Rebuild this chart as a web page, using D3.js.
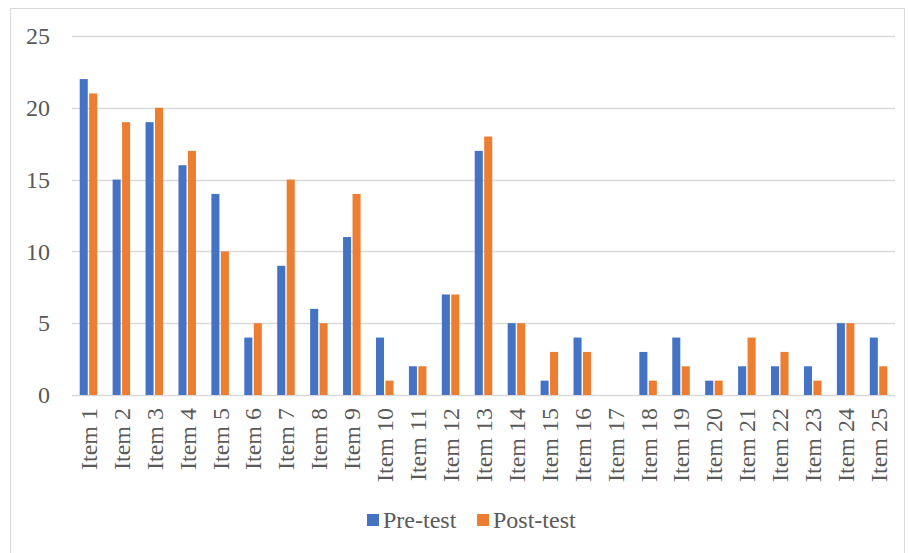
<!DOCTYPE html>
<html><head><meta charset="utf-8">
<script src="https://cdn.jsdelivr.net/npm/d3@7"></script>
<style>html,body{margin:0;padding:0;background:#fff;}svg{display:block;}
svg text{font-family:"Liberation Serif","Times New Roman",serif;}</style>
</head><body>
<script>
const categories = ["Item 1","Item 2","Item 3","Item 4","Item 5","Item 6","Item 7","Item 8","Item 9","Item 10","Item 11","Item 12","Item 13","Item 14","Item 15","Item 16","Item 17","Item 18","Item 19","Item 20","Item 21","Item 22","Item 23","Item 24","Item 25"];
const seriesNames = ["Pre-test","Post-test"];
const preTest  = [22,15,19,16,14,4,9,6,11,4,2,7,17,5,1,4,0,3,4,1,2,2,2,5,4];
const postTest = [21,19,20,17,10,5,15,5,14,1,2,7,18,5,3,3,0,1,2,1,4,3,1,5,2];
const yTicks = [0,5,10,15,20,25];
const colors = ["#4472C4","#ED7D31"];

(function(){
const W = 909, H = 553;
const svg = d3.select("body").append("svg").attr("width", W).attr("height", H);
const font = "'Liberation Serif', 'Times New Roman', serif";
const fs = "24px";

svg.append("rect").attr("x",10.5).attr("y",8.5).attr("width",894).attr("height",560)
  .attr("fill","#fff").attr("stroke","#d9d9d9").attr("stroke-width",1);

const pLeft = 72, pRight = 895, pTop = 36, pBottom = 395;
const x0 = d3.scaleBand().domain(categories).range([pLeft, pRight]).padding(0);
const groupW = 17.5;
const x1 = d3.scaleBand().domain(seriesNames).range([(x0.bandwidth()-groupW)/2, (x0.bandwidth()+groupW)/2]).paddingInner(0.15);
const y = d3.scaleLinear().domain([0,25]).range([pBottom, pTop]);

svg.append("g").selectAll("line").data(yTicks).join("line")
  .attr("x1", pLeft).attr("x2", pRight)
  .attr("y1", d => Math.round(y(d))+0.5).attr("y2", d => Math.round(y(d))+0.5)
  .attr("stroke","#d9d9d9").attr("stroke-width",1.5);

const yAxis = svg.append("g").attr("transform",`translate(${pLeft-22},0)`)
  .call(d3.axisLeft(y).tickValues(yTicks).tickSize(0).tickPadding(0));
yAxis.attr("font-family",null).attr("font-size",null);
yAxis.select(".domain").remove();
yAxis.selectAll("text").style("font-family",font).style("font-size",fs).attr("fill","#595959");

const data = categories.map((c,i)=>({cat:c, vals:[{s:seriesNames[0],v:preTest[i]},{s:seriesNames[1],v:postTest[i]}]}));
const g = svg.append("g").selectAll("g").data(data).join("g")
  .attr("transform", d => `translate(${x0(d.cat)},0)`);
g.selectAll("rect").data(d => d.vals).join("rect")
  .attr("x", d => x1(d.s)).attr("width", x1.bandwidth())
  .attr("y", d => y(d.v)).attr("height", d => y(0)-y(d.v))
  .attr("fill", (d,i) => colors[i]);

const xAxis = svg.append("g").attr("transform",`translate(0,${pBottom})`)
  .call(d3.axisBottom(x0).tickSize(0).tickPadding(0));
xAxis.attr("font-family",null).attr("font-size",null);
xAxis.select(".domain").remove();
xAxis.selectAll("text")
  .style("font-family",font).style("font-size",fs).attr("fill","#595959")
  .attr("text-anchor","end")
  .attr("transform","translate(0,13) rotate(-90)")
  .attr("dy","0.35em").attr("y",0).attr("x",0);

const legend = svg.append("g");
const legendItems = [{name:seriesNames[0], x:367},{name:seriesNames[1], x:477}];
legendItems.forEach((it,i)=>{
  legend.append("rect").attr("x",it.x).attr("y",514).attr("width",12).attr("height",12).attr("fill",colors[i]);
  legend.append("text").attr("x",it.x+16).attr("y",528).text(it.name)
    .style("font-family",font).style("font-size",fs).attr("fill","#595959");
});
})();
</script>
</body></html>
